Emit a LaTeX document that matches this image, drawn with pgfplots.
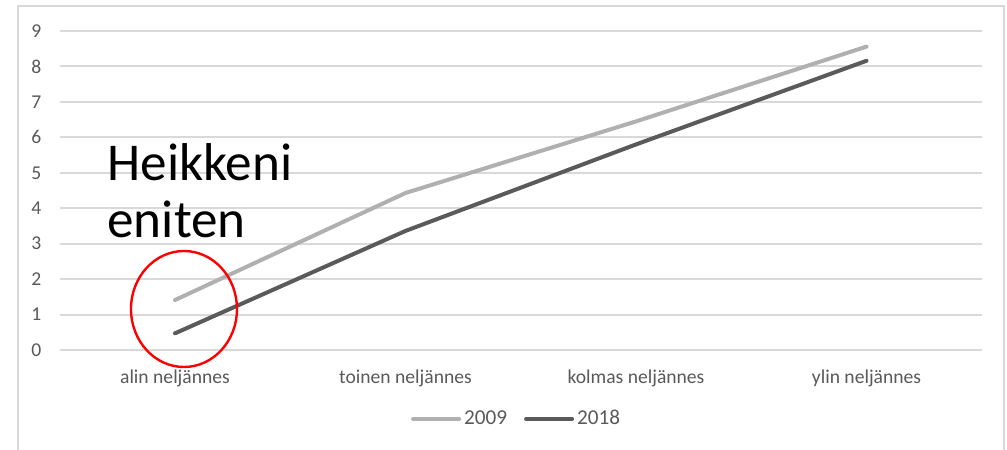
\documentclass[border=0pt]{standalone}
\usepackage{fontspec}
\setmainfont{Carlito}
\usepackage{pgfplots}
\pgfplotsset{compat=1.18}
\definecolor{gridc}{HTML}{D9D9D9}
\definecolor{tickc}{HTML}{595959}
\definecolor{lightl}{HTML}{B0B0B0}
\definecolor{darkl}{HTML}{5A5A5A}
\begin{document}
\begin{tikzpicture}
\begin{axis}[
 scale only axis, width=461pt, height=159.5pt,
 xmin=-0.5, xmax=3.5, ymin=0, ymax=9,
 xtick={0,1,2,3},
 xticklabels={alin neljännes, toinen neljännes, kolmas neljännes, ylin neljännes},
 ytick={0,1,2,3,4,5,6,7,8,9},
 ymajorgrids, grid style={gridc, line width=1pt},
 axis line style={draw=none},
 major tick length=0pt,
 tick label style={font=\fontsize{9.8}{11}\selectfont, text=tickc},
 yticklabel style={anchor=east, inner sep=0pt, xshift=-9pt},
 xticklabel style={anchor=base, inner sep=0pt, yshift=-16.5pt},
 /pgf/number format/assume math mode=true,
 clip=false,
 legend style={at={(0.496,-0.216)}, anchor=center, draw=none, fill=none,
   font=\fontsize{10.6}{12}\selectfont, text=tickc, legend columns=2,
   /tikz/every even column/.append style={column sep=7pt},
   nodes={inner sep=1.5pt}},
 legend image code/.code={\draw[#1] (0pt,0pt) -- (23pt,0pt);},
]
\coordinate (bbA) at (axis cs:-0.7592,9.875);
\coordinate (bbB) at (axis cs:3.6095,-2.793);
\draw[gridc, line width=0.75pt] (axis cs:-0.6811,-3.2) -- (axis cs:-0.6811,9.705) -- (axis cs:3.5965,9.705) -- (axis cs:3.5965,-3.2);
\addplot[lightl, line width=2pt, line cap=round, line join=round] coordinates {(0,1.41) (1,4.43) (2,6.45) (3,8.56)};
\addlegendentry{2009}
\addplot[darkl, line width=2pt, line cap=round, line join=round] coordinates {(0,0.47) (1,3.36) (2,5.8) (3,8.16)};
\addlegendentry{2018}
\draw[red, line width=1.2pt] (axis cs:0.039,1.157) ellipse [x radius=26.5pt, y radius=29pt];
\node[anchor=base west, inner sep=0pt, font=\fontsize{26.6}{28}\selectfont] at (axis cs:-0.295,4.796) {Heikkeni};
\node[anchor=base west, inner sep=0pt, font=\fontsize{26.6}{28}\selectfont] at (axis cs:-0.295,3.188) {eniten};
\end{axis}
\pgfresetboundingbox
\useasboundingbox (bbA) rectangle (bbB);
\end{tikzpicture}
\end{document}
